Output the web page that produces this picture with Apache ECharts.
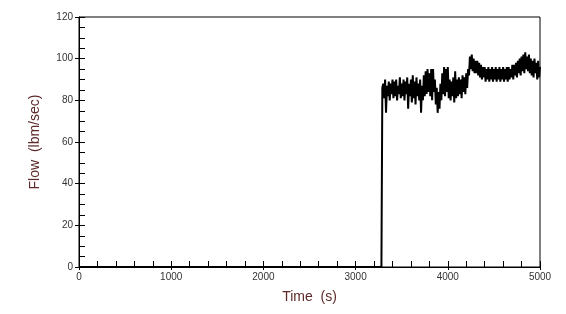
<!DOCTYPE html>
<html>
<head>
<meta charset="utf-8">
<script src="https://cdn.jsdelivr.net/npm/echarts@6/dist/echarts.min.js"></script>
<style>html,body{margin:0;padding:0;background:#fff;}#c{width:566px;height:314px;}</style>
</head>
<body>
<div id="c"></div>
<script>
// Leading part of the trace (time s, flow lbm/sec)
const leadTimes = [0, 3280];
const leadFlow  = [0, 0];
// Sampled trace after the flow starts: first sample time, sample step (s)
const traceStart = 3290;
const traceStep = 10;
const traceFlow = [
  86,
  88, 81, 90, 74, 87, 82, 89, 80, 88, 83, 90,
  81, 89, 82, 90, 80, 87, 83, 91, 81, 88,
  82, 90, 80, 89, 83, 91, 76, 88, 82, 90,
  79, 92, 81, 89, 78, 91, 82, 88, 80, 90,
  74, 87, 80, 92, 82, 94, 83, 95, 84, 93,
  82, 95, 80, 95, 84, 90, 78, 86, 74, 84,
  76, 88, 80, 93, 83, 96, 82, 95, 84, 96,
  81, 90, 80, 89, 82, 91, 79, 94, 81, 90,
  82, 91, 83, 90, 81, 92, 84, 91, 83, 93,
  86, 95, 92, 101, 95, 102, 94, 100, 93, 99,
  93, 99, 92, 98, 91, 97, 90, 96, 91, 96,
  89, 95, 90, 96, 89, 95, 90, 96, 89, 95,
  90, 96, 89, 95, 90, 96, 89, 95, 90, 96,
  89, 95, 90, 96, 89, 96, 90, 95, 91, 97,
  90, 97, 92, 98, 91, 99, 93, 100, 92, 101,
  94, 102, 93, 103, 95, 101, 94, 102, 93, 100,
  92, 99, 91, 100, 93, 98, 90, 99, 91, 96
];
const xTickLabels = ['0', '1000', '2000', '3000', '4000', '5000'];
const yTickLabels = ['0', '20', '40', '60', '80', '100', '120'];

const data = [];
for (let i = 0; i < leadTimes.length; i++) data.push([leadTimes[i], leadFlow[i]]);
for (let i = 0; i < traceFlow.length; i++) data.push([traceStart + i * traceStep, traceFlow[i]]);

const labelFont = {fontFamily: '"Liberation Sans Narrow","Liberation Sans",Arial,sans-serif', fontSize: 10, color: '#333'};
const nameColor = '#5e2a2a';

const chart = echarts.init(document.getElementById('c'));
chart.setOption({
  animation: false,
  backgroundColor: '#fff',
  grid: {left: 79, right: 26, top: 17, bottom: 47, show: true, borderColor: '#000', borderWidth: 1, backgroundColor: 'transparent'},
  xAxis: [{
    type: 'value', min: 0, max: 5000, interval: 1000,
    name: 'Time  (s)', nameLocation: 'middle', nameGap: 23,
    nameTextStyle: {fontFamily: '"Liberation Sans",Arial,sans-serif', fontSize: 14, color: nameColor},
    axisLine: {show: true, lineStyle: {color: '#000', width: 1}},
    axisTick: {show: true, inside: false, length: 3, lineStyle: {color: '#000'}},
    axisLabel: Object.assign({margin: 5, formatter: v => xTickLabels[Math.round(v / 1000)]}, labelFont),
    splitLine: {show: false}
  }, {
    type: 'value', min: 0, max: 5000, interval: 200, position: 'bottom',
    axisLine: {show: false},
    axisTick: {show: true, inside: true, length: 6, lineStyle: {color: '#000', width: 1}},
    axisLabel: {show: false}, splitLine: {show: false}
  }],
  yAxis: [{
    type: 'value', min: 0, max: 120, interval: 20,
    name: 'Flow  (lbm/sec)', nameLocation: 'middle', nameGap: 37, nameRotate: 90,
    nameTextStyle: {fontFamily: '"Liberation Sans",Arial,sans-serif', fontSize: 14, color: nameColor},
    axisLine: {show: true, lineStyle: {color: '#000', width: 1}},
    axisTick: {show: true, inside: false, length: 4, lineStyle: {color: '#000'}},
    axisLabel: Object.assign({margin: 6, formatter: v => yTickLabels[Math.round(v / 20)]}, labelFont),
    splitLine: {show: false}
  }, {
    type: 'value', min: 0, max: 120, interval: 5, position: 'left',
    axisLine: {show: false},
    axisTick: {show: true, inside: true, length: 6, lineStyle: {color: '#000', width: 1}},
    axisLabel: {show: false}, splitLine: {show: false}
  }],
  series: [{
    type: 'line', xAxisIndex: 0, yAxisIndex: 0, data: data,
    showSymbol: false, symbol: 'none',
    lineStyle: {color: '#000', width: 2},
    z: 5
  }]
});
</script>
</body>
</html>
